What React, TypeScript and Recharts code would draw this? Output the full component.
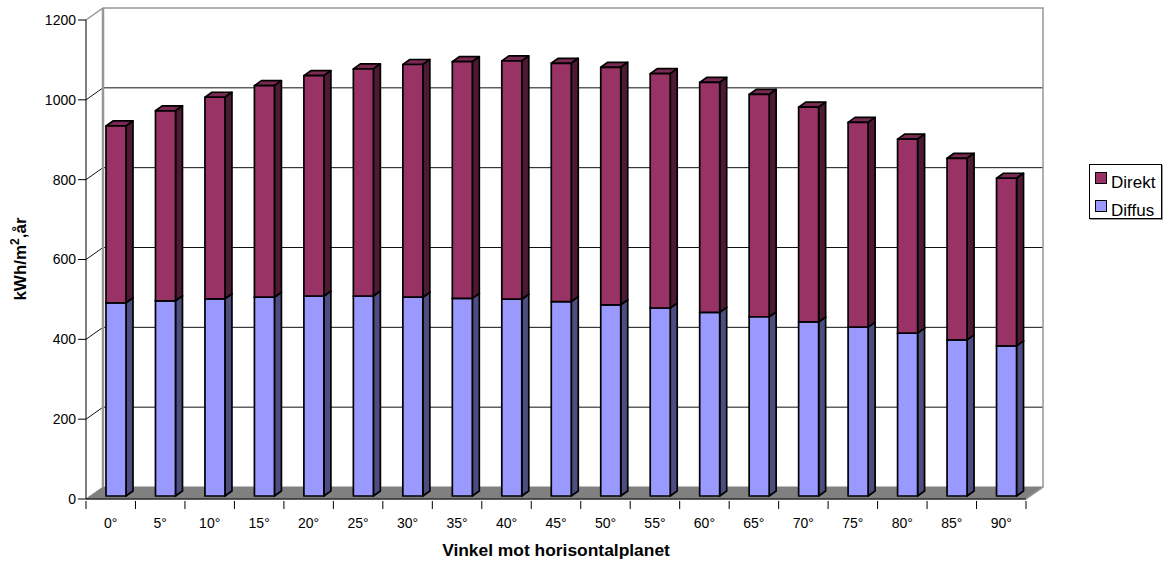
import React from 'react';
import { BarChart, Bar, XAxis, YAxis, CartesianGrid, Legend, ReferenceArea } from 'recharts';

const angles = ['0°','5°','10°','15°','20°','25°','30°','35°','40°','45°','50°','55°','60°','65°','70°','75°','80°','85°','90°'];
const diffus = [484,489,494,498,501,501,498,495,493,487,479,471,460,449,436,423,408,391,376];
const direkt = [443,476,505,530,552,569,583,593,597,597,595,587,576,557,538,513,486,455,420];
const yTicks = [0,200,400,600,800,1000,1200];
const gridValues = [200,400,600,800,1000];
const data = angles.map((angle,i)=>({angle,Diffus:diffus[i],Direkt:direkt[i]}));

const W = 1172, H = 562;
const LEFT = 86, RIGHT = 146, TOP = 20, BOTTOM = 63;
const LEGEND_W = 73;
const STEP = (W-LEFT-RIGHT)/angles.length;
// Projection of the chart's depth: back wall offset and bar depth.
const WALL_DX = 17, WALL_DY = -12;
const BAR_DX = 5, BAR_DY = -3, DEPTH_X = 7, DEPTH_Y = -5;
const FONT = '"Liberation Sans", Arial, sans-serif';

const Walls = (p:any) => {
  const {x,y,width,height} = p;
  const b = y+height, r = x+width;
  return (
    <g>
      <polygon points={`${x},${b} ${x+WALL_DX},${b+WALL_DY} ${r+WALL_DX},${b+WALL_DY} ${r},${b}`} fill="#808080" stroke="#808080" />
      <polyline points={`${x},${y} ${x+WALL_DX},${y+WALL_DY} ${r+WALL_DX},${y+WALL_DY} ${r+WALL_DX},${b+WALL_DY} ${r},${b}`} fill="none" stroke="#969696" strokeWidth={1.5} />
      <line x1={x+WALL_DX} y1={y+WALL_DY} x2={x+WALL_DX} y2={b+WALL_DY} stroke="#969696" strokeWidth={2.5} />
    </g>
  );
};

const GridLine = (p:any) => {
  const {x1,y1,x2,y2} = p;
  return (
    <g>
      <polyline points={`${x1},${y1} ${x1+WALL_DX},${y1+WALL_DY} ${x2+WALL_DX},${y2+WALL_DY}`} fill="none" stroke="#111" strokeWidth={1} />
    </g>
  );
};

const makeBar = (front:string, top:string, side:string) => (p:any) => {
  const x = p.x+BAR_DX, y = p.y+BAR_DY, w = p.width, h = p.height;
  const r = x+w, b = y+h;
  return (
    <g stroke="#000" strokeWidth={1.7} strokeLinejoin="round">
      <polygon points={`${x},${y} ${x+DEPTH_X},${y+DEPTH_Y} ${r+DEPTH_X},${y+DEPTH_Y} ${r},${y}`} fill={top} />
      <polygon points={`${r},${y} ${r+DEPTH_X},${y+DEPTH_Y} ${r+DEPTH_X},${b+DEPTH_Y} ${r},${b}`} fill={side} />
      <rect x={x} y={y} width={w} height={h} fill={front} />
    </g>
  );
};

const XTick = (p:any) => {
  const {x,y,index,payload} = p;
  const left = x-STEP/2;
  return (
    <g>
      <line x1={left} y1={y-6} x2={left} y2={y+2} stroke="#000" />
      {index===angles.length-1 && <line x1={x+STEP/2} y1={y-6} x2={x+STEP/2} y2={y+2} stroke="#000" />}
      <text x={x} y={y+21} textAnchor="middle" fontSize={14} fontFamily={FONT} fill="#000">{payload.value}</text>
    </g>
  );
};

const YTitle = () => (
  <text transform={`translate(26,259) rotate(-90)`} textAnchor="middle" fontSize={17} fontWeight="bold" fontFamily={FONT} fill="#000">
    kWh/m<tspan dy={-7} fontSize={12}>2</tspan><tspan dy={7}>,år</tspan>
  </text>
);

const LegendBox = () => (
  <div style={{width:LEGEND_W,height:55,border:'1px solid #000',boxSizing:'border-box',background:'#fff',fontFamily:FONT,fontSize:17,color:'#000',position:'relative',boxShadow:'1px 1px 0 #999'}}>
    {[['Direkt','#993366',7],['Diffus','#9999FF',35]].map(([name,color,top])=>(
      <React.Fragment key={name as string}>
        <span style={{position:'absolute',left:5,top:top as number,width:10,height:10,background:color as string,border:'1px solid #000'}} />
        <span style={{position:'absolute',left:21,top:(top as number)+1,lineHeight:'20px'}}>{name}</span>
      </React.Fragment>
    ))}
  </div>
);

export default function App() {
  return (
    <div style={{position:'absolute',left:0,top:0,width:W,height:H,background:'#fff'}}>
      <BarChart width={W} height={H} data={data} margin={{left:0,right:RIGHT-LEGEND_W,top:TOP,bottom:0}} barCategoryGap={0}>
        <ReferenceArea y1={0} y2={1200} shape={Walls} ifOverflow="visible" />
        <CartesianGrid vertical={false} horizontalValues={gridValues} horizontal={GridLine} />
        <XAxis dataKey="angle" height={BOTTOM} tickLine={false} interval={0} tick={XTick} axisLine={{stroke:'#000'}} />
        <YAxis width={LEFT} domain={[0,1200]} ticks={yTicks} tickSize={8} tickLine={{stroke:'#000'}} axisLine={{stroke:'#000'}} tick={{fontSize:14,fontFamily:FONT,fill:'#000'}} label={<YTitle />} />
        <Bar dataKey="Diffus" stackId="a" barSize={20} isAnimationActive={false} shape={makeBar('#9999FF','#7a7acc','#4D4D80')} />
        <Bar dataKey="Direkt" stackId="a" barSize={20} isAnimationActive={false} shape={makeBar('#993366','#7a2952','#4D1933')} />
        <Legend layout="vertical" align="right" verticalAlign="top" width={LEGEND_W} content={<LegendBox />} wrapperStyle={{position:'absolute',left:1089,top:164,width:LEGEND_W}} />
        <text x={556} y={556} textAnchor="middle" fontSize={17.4} fontWeight="bold" fontFamily={FONT} fill="#000">Vinkel mot horisontalplanet</text>
      </BarChart>
    </div>
  );
}
